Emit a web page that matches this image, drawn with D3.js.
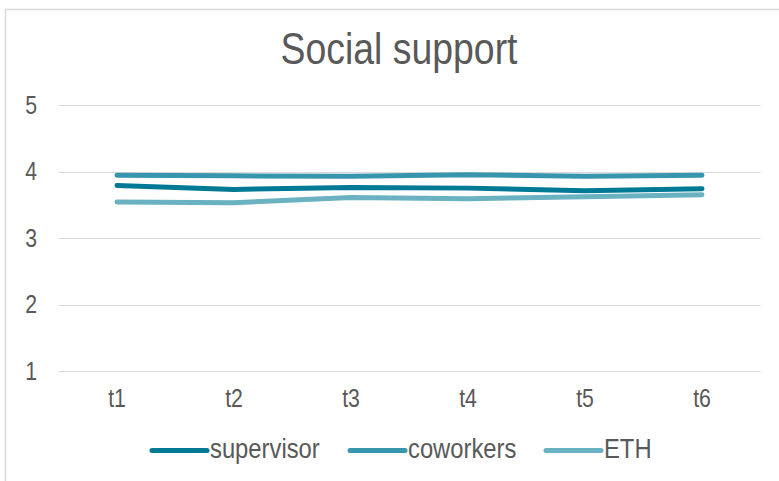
<!DOCTYPE html>
<html><head><meta charset="utf-8">
<script src="https://cdn.jsdelivr.net/npm/d3@7"></script>
<style>body{margin:0;background:#fff;}svg{display:block;font-family:"Liberation Sans",Arial,sans-serif;}</style>
</head><body>
<svg id="c" width="779" height="481"></svg>
<script>
const categories = ["t1","t2","t3","t4","t5","t6"];
const seriesNames = ["supervisor","coworkers","ETH"];
const supervisor = [3.79,3.73,3.76,3.75,3.71,3.74];
const coworkers = [3.945,3.935,3.93,3.95,3.93,3.945];
const ETH = [3.54,3.53,3.61,3.59,3.62,3.65];
const yTicks = [1,2,3,4,5];
const colors = ["#007a94","#3796ad","#6ab1c2"];

const SX = 0.85;
const series = [supervisor, coworkers, ETH];
const svg = d3.select("#c");
svg.append("rect").attr("x",5.5).attr("y",9.5).attr("width",800).attr("height",500)
  .attr("fill","#fff").attr("stroke","#d9d9d9").attr("stroke-width",1.5);

const x = d3.scaleBand().domain(categories).range([58.5,760.5]);
const y = d3.scaleLinear().domain([1,5]).range([371,105]);

svg.append("text").attr("transform",`translate(399,64) scale(${SX},1)`).attr("text-anchor","middle")
  .attr("font-size",44).attr("fill","#595959").text("Social support");

const g = svg.append("g");
g.selectAll("line.grid").data(yTicks).join("line").attr("class","grid")
  .attr("x1",58.5).attr("x2",760.5).attr("y1",d=>Math.round(y(d))+0.5).attr("y2",d=>Math.round(y(d))+0.5)
  .attr("stroke","#d9d9d9").attr("stroke-width",1.2);

const yAxis = d3.axisLeft(y).tickValues(yTicks).tickSize(0).tickPadding(0).tickFormat(d3.format("d"));
const ya = svg.append("g").attr("transform","translate(37,0)").call(yAxis);
ya.select(".domain").remove();
ya.selectAll("text").attr("font-size",25).attr("fill","#595959").attr("font-family","Liberation Sans, Arial, sans-serif")
  .attr("transform",`scale(${SX},1)`);

const xAxis = d3.axisBottom(x).tickSize(0).tickPadding(0);
const xa = svg.append("g").attr("transform","translate(0,389)").call(xAxis);
xa.select(".domain").remove();
xa.selectAll("text").attr("font-size",25).attr("fill","#595959").attr("font-family","Liberation Sans, Arial, sans-serif")
  .attr("transform",`scale(${SX},1)`);

const line = d3.line().x((d,i)=>x(categories[i])+x.bandwidth()/2).y(d=>y(d));
[2,0,1].forEach(k=>{
  svg.append("path").datum(series[k]).attr("d",line).attr("fill","none")
    .attr("stroke",colors[k]).attr("stroke-width",5).attr("stroke-linecap","round").attr("stroke-linejoin","round");
});

const legX = [152,350,546];
seriesNames.forEach((n,i)=>{
  svg.append("line").attr("x1",legX[i]).attr("x2",legX[i]+55).attr("y1",450.5).attr("y2",450.5)
    .attr("stroke",colors[i]).attr("stroke-width",5).attr("stroke-linecap","round");
  svg.append("text").attr("transform",`translate(${legX[i]+58},458) scale(${SX},1)`)
    .attr("font-size",28).attr("fill","#595959").text(n);
});
</script>
</body></html>
